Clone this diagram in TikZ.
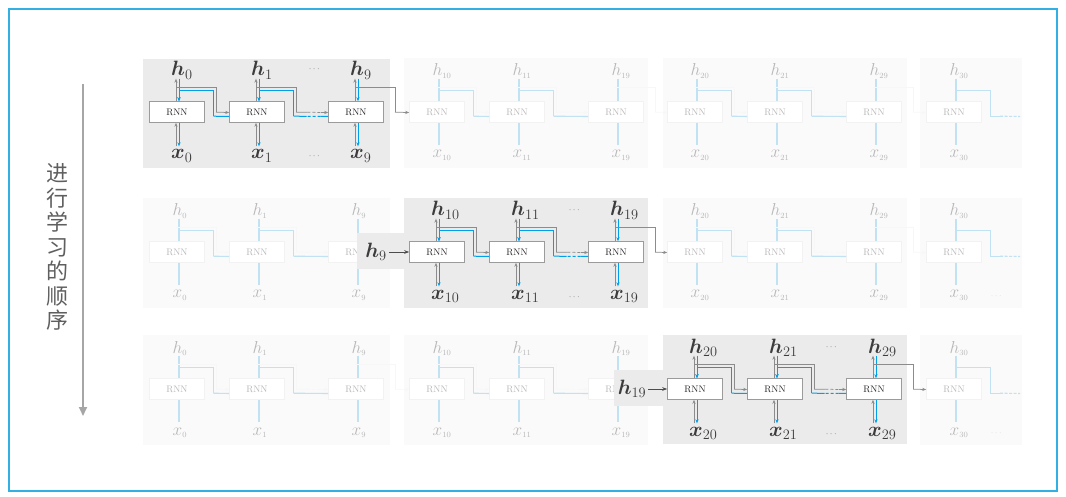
\documentclass[tikz,border=0pt]{standalone}
\usepackage{amsmath}
\usepackage{fontspec}
\usetikzlibrary{arrows.meta,calc}
\newfontfamily\cjk{Noto Sans CJK SC}
\definecolor{framecol}{RGB}{50,176,228}
\definecolor{myblue}{RGB}{0,160,233}
\definecolor{fadeblue}{RGB}{192,226,243}
\definecolor{linegray}{RGB}{140,140,140}
\definecolor{boxgray}{RGB}{155,155,155}
\definecolor{labgray}{RGB}{60,60,60}
\definecolor{hlbg}{RGB}{235,235,235}
\definecolor{fadebg}{RGB}{250,250,250}
\definecolor{arrgray}{RGB}{166,166,166}
\definecolor{txtgray}{RGB}{95,95,95}

\newcommand\fwdpath[4]{%
  \draw[#3] ($(#1.north)+(-1,-13.5)$) -- ($(#1.north)+(39,-13.5)$) -- ($(#1.north)+(39,11)$);
  \coordinate (p1) at ($(#1.north)+(39,11)$);
  \coordinate (p2) at ($(#2.west)+(0,0.5)$);
  \ifnum#4=1
    \draw[#3] (p1) -- ($(p1)!0.35!(p2)$);
    \draw[#3,dash pattern=on 3pt off 2pt] ($(p1)!0.35!(p2)$) -- ($(p1)!0.78!(p2)$);
    \draw[#3,tip] ($(p1)!0.78!(p2)$) -- (p2);
  \else
    \draw[#3,tip] (p1) -- (p2);
  \fi}

\newcommand\bwdpath[5]{%
  \coordinate (q1) at ($(#2.west)+(0,4.5)$);
  \coordinate (q2) at ($(#1.north)+(36.5,15)$);
  \ifnum#4=1
    \draw[#3] (q1) -- ($(q1)!0.22!(q2)$);
    \draw[#3,dash pattern=on 3pt off 2pt] ($(q1)!0.22!(q2)$) -- ($(q1)!0.62!(q2)$);
    \draw[#3] ($(q1)!0.62!(q2)$) -- (q2);
  \else
    \draw[#3] (q1) -- (q2);
  \fi
  \draw[#3,#5,line join=miter] (q2) -- ($(#1.north)+(36.5,-10.5)$) -- ($(#1.north)+(2,-10.5)$) -- ($(#1.north)+(2,0)$);}

\begin{document}
\begin{tikzpicture}[x=1pt,y=-1pt,
  rnn/.style={draw=boxgray, fill=white, line width=0.6pt, minimum width=55pt, minimum height=21pt, inner sep=0pt, font=\fontsize{9.5}{10}\selectfont, text=black!85},
  frnn/.style={rnn, draw=black!5, text=black!28},
  hlab/.style={inner sep=0pt, text=labgray, font=\fontsize{20}{22}\selectfont},
  flab/.style={inner sep=0pt, text=black!28, font=\fontsize{16}{18}\selectfont},
  dotlab/.style={inner sep=0pt, text=black!60, font=\fontsize{9}{10}\selectfont},
  gl/.style={draw=linegray, line width=0.75pt},
  bl/.style={draw=myblue, line width=1pt},
  fbl/.style={draw=fadeblue, line width=1.1pt},
  fgl/.style={draw=black!3, line width=0.7pt},
  tip/.style={-{Stealth[length=4pt,width=3.2pt]}},
  notip/.style={},
  entry/.style={draw=black!70, line width=0.8pt, -{Stealth[length=5pt,width=3.6pt]}},
  bigarrow/.style={draw=arrgray, line width=2pt, -{Triangle[length=9pt,width=8pt]}}
]
\useasboundingbox (0,0) rectangle (1066,497);

% faded group backgrounds
\foreach \rw/\cy in {1/112,2/252,3/389}{
  \foreach \gi/\xa/\xb in {1/143/390,2/404/648,3/663/907,4/920/1022}{
    \ifnum\gi=\rw\else \fill[fadebg] (\xa,\cy-54) rectangle (\xb,\cy+56);\fi
  }
}

% faded columns
\foreach \rw/\cy in {1/112,2/252,3/389}{
  \foreach \ci/\cx/\lab in {1/177/0,2/257/1,3/356/9,4/437/10,5/517/11,6/616/19,7/695/20,8/775/21,9/874/29,10/954/30}{
    \pgfmathtruncatemacro\grp{(\ci+2)/3}
    \ifnum\grp=\rw\else
      \node[frnn] (b\rw-\ci) at (\cx,\cy) {RNN};
      \node[flab,anchor=base west] (h\rw-\ci) at (\cx-4.5,\cy-36) {$h_{\scriptscriptstyle\lab}$};
      \node[flab,anchor=base west] (x\rw-\ci) at (\cx-4.5,\cy+46) {$x_{\scriptscriptstyle\lab}$};
      \draw[fbl] ($(b\rw-\ci.south)+(2,0)$) -- ++(0,22);
      \draw[fbl] ($(b\rw-\ci.north)+(2,-22.5)$) -- ($(b\rw-\ci.north)+(2,0)$);
    \fi
  }
}

% faded connectors
\foreach \rw/\cy in {1/112,2/252,3/389}{
  \foreach \ca/\cb/\dd in {1/2/0,2/3/1,4/5/0,5/6/1,7/8/0,8/9/1}{
    \pgfmathtruncatemacro\grp{(\ca+2)/3}
    \ifnum\grp=\rw\else
      \fwdpath{b\rw-\ca}{b\rw-\cb}{fgl}{\dd}
      \bwdpath{b\rw-\ca}{b\rw-\cb}{fbl}{0}{notip}
    \fi
  }
  \foreach \ca/\cb in {3/4,6/7,9/10}{
    \pgfmathtruncatemacro\ga{\ca/3}
    \pgfmathtruncatemacro\gb{\ca/3+1}
    \ifnum\ga=\rw\else\ifnum\gb=\rw\else
      \fwdpath{b\rw-\ca}{b\rw-\cb}{fgl}{0}
    \fi\fi
  }
  \coordinate (e\rw) at (1020,\cy+4.5);
  \draw[fbl] ($(b\rw-10.north)+(2,0)$) -- ($(b\rw-10.north)+(2,-10.5)$) -- ($(b\rw-10.north)+(36.5,-10.5)$) -- ($(b\rw-10.north)+(36.5,15)$) -- ($(b\rw-10.north)+(46,15)$);
  \draw[fbl,dash pattern=on 3pt off 1.5pt] ($(b\rw-10.north)+(46,15)$) -- (e\rw);
}
\node[dotlab,text=black!15] (fd2) at (997,296) {$\cdots$};
\node[dotlab,text=black!15] (fd3) at (997,433) {$\cdots$};

% highlight backgrounds
\fill[hlbg] (143,59) rectangle (390,168);
\fill[hlbg] (404,198) rectangle (648,308);
\fill[hlbg] (357,233) rectangle (404,269);
\fill[hlbg] (663,335) rectangle (907,444);
\fill[hlbg] (614,370) rectangle (663,406);

% highlighted columns
\foreach \rw/\cy in {1/112,2/252,3/389}{
  \foreach \ci/\cx/\lab in {1/177/0,2/257/1,3/356/9,4/437/10,5/517/11,6/616/19,7/695/20,8/775/21,9/874/29}{
    \pgfmathtruncatemacro\grp{(\ci+2)/3}
    \ifnum\grp=\rw
      \node[rnn] (b\rw-\ci) at (\cx,\cy) {RNN};
      \node[hlab,anchor=base west] (h\rw-\ci) at (\cx-6,\cy-36) {$\boldsymbol{h}_{\lab}$};
      \node[hlab,anchor=base west] (x\rw-\ci) at (\cx-6,\cy+47) {$\boldsymbol{x}_{\lab}$};
      \draw[gl,tip] ($(b\rw-\ci.north)+(-1,0)$) -- ++(0,-22.5);
      \draw[bl,tip] ($(b\rw-\ci.north)+(2,-22.5)$) -- ($(b\rw-\ci.north)+(2,0)$);
      \draw[gl,tip] ($(b\rw-\ci.south)+(-1,23.5)$) -- ($(b\rw-\ci.south)+(-1,0)$);
      \draw[bl,tip] ($(b\rw-\ci.south)+(2,0)$) -- ++(0,23.5);
    \fi
  }
}

% highlighted connectors
\foreach \rw in {1,2,3}{
  \foreach \ca/\cb/\dd in {1/2/0,2/3/1,4/5/0,5/6/1,7/8/0,8/9/1}{
    \pgfmathtruncatemacro\grp{(\ca+2)/3}
    \ifnum\grp=\rw
      \bwdpath{b\rw-\ca}{b\rw-\cb}{bl}{\dd}{tip}
      \fwdpath{b\rw-\ca}{b\rw-\cb}{gl}{\dd}
    \fi
  }
}
\fwdpath{b1-3}{b1-4}{gl}{0}
\fwdpath{b2-6}{b2-7}{gl}{0}
\fwdpath{b3-9}{b3-10}{gl}{0}

% entry states
\node[hlab] (in2) at (376,252) {$\boldsymbol{h}_{9}$};
\draw[entry] (b2-4.west -| in2.east) ++(2,0) -- (b2-4.west);
\node[hlab] (in3) at (632,389) {$\boldsymbol{h}_{19}$};
\draw[entry] (b3-7.west -| in3.east) ++(2,0) -- (b3-7.west);

% dots
\node[dotlab] (d1a) at (315,69) {$\cdots$};
\node[dotlab] (d1b) at (315,156) {$\cdots$};
\node[dotlab] (d2a) at (575,210) {$\cdots$};
\node[dotlab] (d2b) at (575,297) {$\cdots$};
\node[dotlab] (d3a) at (832,347) {$\cdots$};
\node[dotlab] (d3b) at (832,434) {$\cdots$};

% order arrow and text
\coordinate (ta) at (83,84);
\coordinate (tb) at (83,416);
\draw[bigarrow] (ta) -- (tb);
\node[inner sep=0pt, align=center, text=txtgray, font=\cjk\fontsize{22}{24.5}\selectfont] (ord) at (57,247) {进\\行\\学\\习\\的\\顺\\序};

% frame
\draw[draw=framecol, line width=1.1pt] (9,9) rectangle (1057,491);
\end{tikzpicture}
\end{document}
